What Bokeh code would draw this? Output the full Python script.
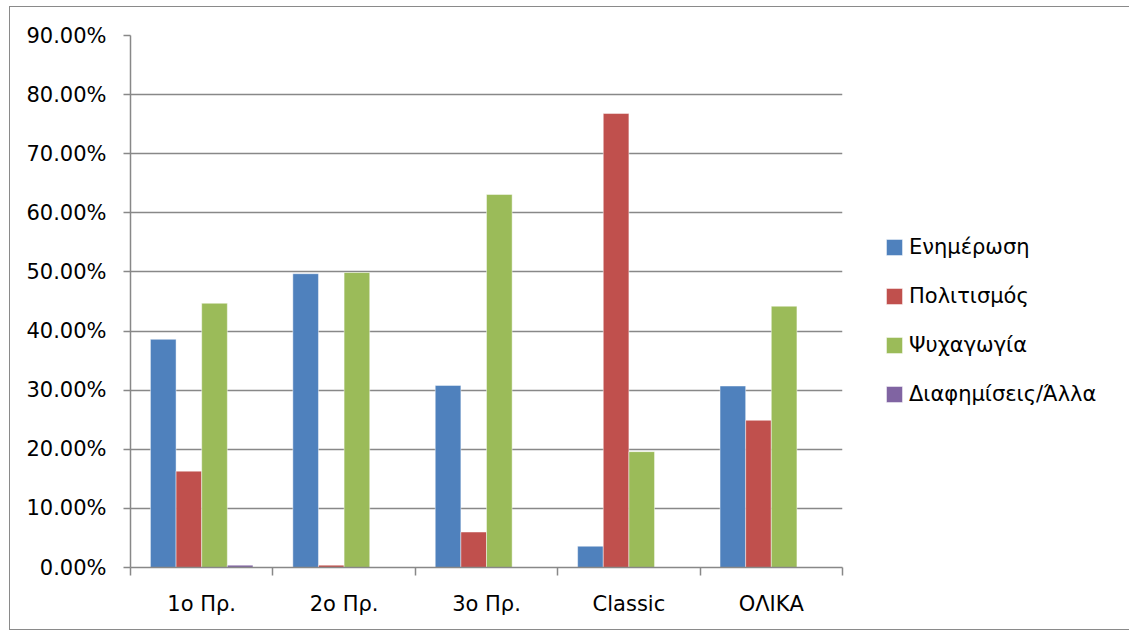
from bokeh.plotting import figure
from bokeh.models import ColumnDataSource, FixedTicker, NumeralTickFormatter, Range1d, Legend, LegendItem
from bokeh.embed import file_html
from bokeh.resources import INLINE

categories = ["1ο Πρ.", "2ο Πρ.", "3ο Πρ.", "Classic", "ΟΛΙΚΑ"]
series_names = ["Ενημέρωση", "Πολιτισμός", "Ψυχαγωγία", "Διαφημίσεις/Άλλα"]
enimerosi = [0.386, 0.497, 0.308, 0.036, 0.307]
politismos = [0.163, 0.004, 0.060, 0.768, 0.249]
psyxagogia = [0.447, 0.499, 0.631, 0.196, 0.442]
diafimiseis = [0.004, 0.0, 0.0, 0.0, 0.0]
y_ticks = [0.0, 0.1, 0.2, 0.3, 0.4, 0.5, 0.6, 0.7, 0.8, 0.9]

colors = ["#4F81BD", "#C0504D", "#9BBB59", "#8064A2"]
series = [enimerosi, politismos, psyxagogia, diafimiseis]

FONT = "DejaVu Sans"
GRID = "#888888"

p = figure(frame_width=712, frame_height=532, min_border_left=120, min_border_right=279,
           min_border_top=28, min_border_bottom=62, output_backend="svg", toolbar_location=None,
           x_range=Range1d(0, len(categories)), y_range=Range1d(0, 0.9))
p.styles = {"border": "1px solid #8a8a8a", "margin-left": "9px", "margin-top": "6px"}
p.outline_line_color = None
p.background_fill_color = "white"
p.border_fill_color = "white"

bw = 0.18
offsets = [-0.27, -0.09, 0.09, 0.27]
renderers = []
for vals, col, off in zip(series, colors, offsets):
    src = ColumnDataSource(dict(x=[i + 0.5 + off for i in range(len(categories))], top=vals))
    r = p.vbar(x="x", top="top", bottom=0, width=bw, source=src, fill_color=col,
               line_color="white", line_alpha=0.45, line_width=1)
    renderers.append(r)

# axes
p.xaxis.ticker = FixedTicker(ticks=[i + 0.5 for i in range(len(categories))],
                             minor_ticks=list(range(len(categories) + 1)))
p.xaxis.major_label_overrides = {i + 0.5: c for i, c in enumerate(categories)}
p.xaxis.major_tick_line_color = None
p.xaxis.major_tick_out = 0
p.xaxis.major_tick_in = 0
p.xaxis.minor_tick_out = 8
p.xaxis.minor_tick_in = 0
p.xaxis.minor_tick_line_color = GRID
p.xaxis.minor_tick_line_width = 1.5
p.xaxis.axis_line_color = GRID
p.xaxis.axis_line_width = 1.5
p.xaxis.major_label_standoff = 16
p.xaxis.major_label_text_font = FONT
p.xaxis.major_label_text_font_size = "21px"
p.xaxis.major_label_text_color = "black"

p.yaxis.ticker = FixedTicker(ticks=y_ticks)
p.yaxis.formatter = NumeralTickFormatter(format="0.00%")
p.yaxis.major_tick_out = 7
p.yaxis.major_tick_in = 0
p.yaxis.major_tick_line_color = GRID
p.yaxis.major_tick_line_width = 1.5
p.yaxis.minor_tick_line_color = None
p.yaxis.axis_line_color = GRID
p.yaxis.axis_line_width = 1.5
p.yaxis.major_label_standoff = 17
p.yaxis.major_label_text_font = FONT
p.yaxis.major_label_text_font_size = "21px"
p.yaxis.major_label_text_color = "black"

p.xgrid.grid_line_color = None
p.ygrid.grid_line_color = GRID
p.ygrid.grid_line_width = 1.5

legend = Legend(items=[LegendItem(label=n, renderers=[r]) for n, r in zip(series_names, renderers)],
                location=(42, 161))
legend.glyph_width = 20
legend.glyph_height = 20
legend.label_height = 20
legend.spacing = 25
legend.padding = 0
legend.margin = 0
legend.label_standoff = 5
legend.label_text_font = FONT
legend.label_text_font_size = "21px"
legend.label_text_color = "black"
legend.border_line_color = None
legend.background_fill_alpha = 0
p.add_layout(legend, "right")

open("out.html", "w").write(file_html(p, INLINE))
